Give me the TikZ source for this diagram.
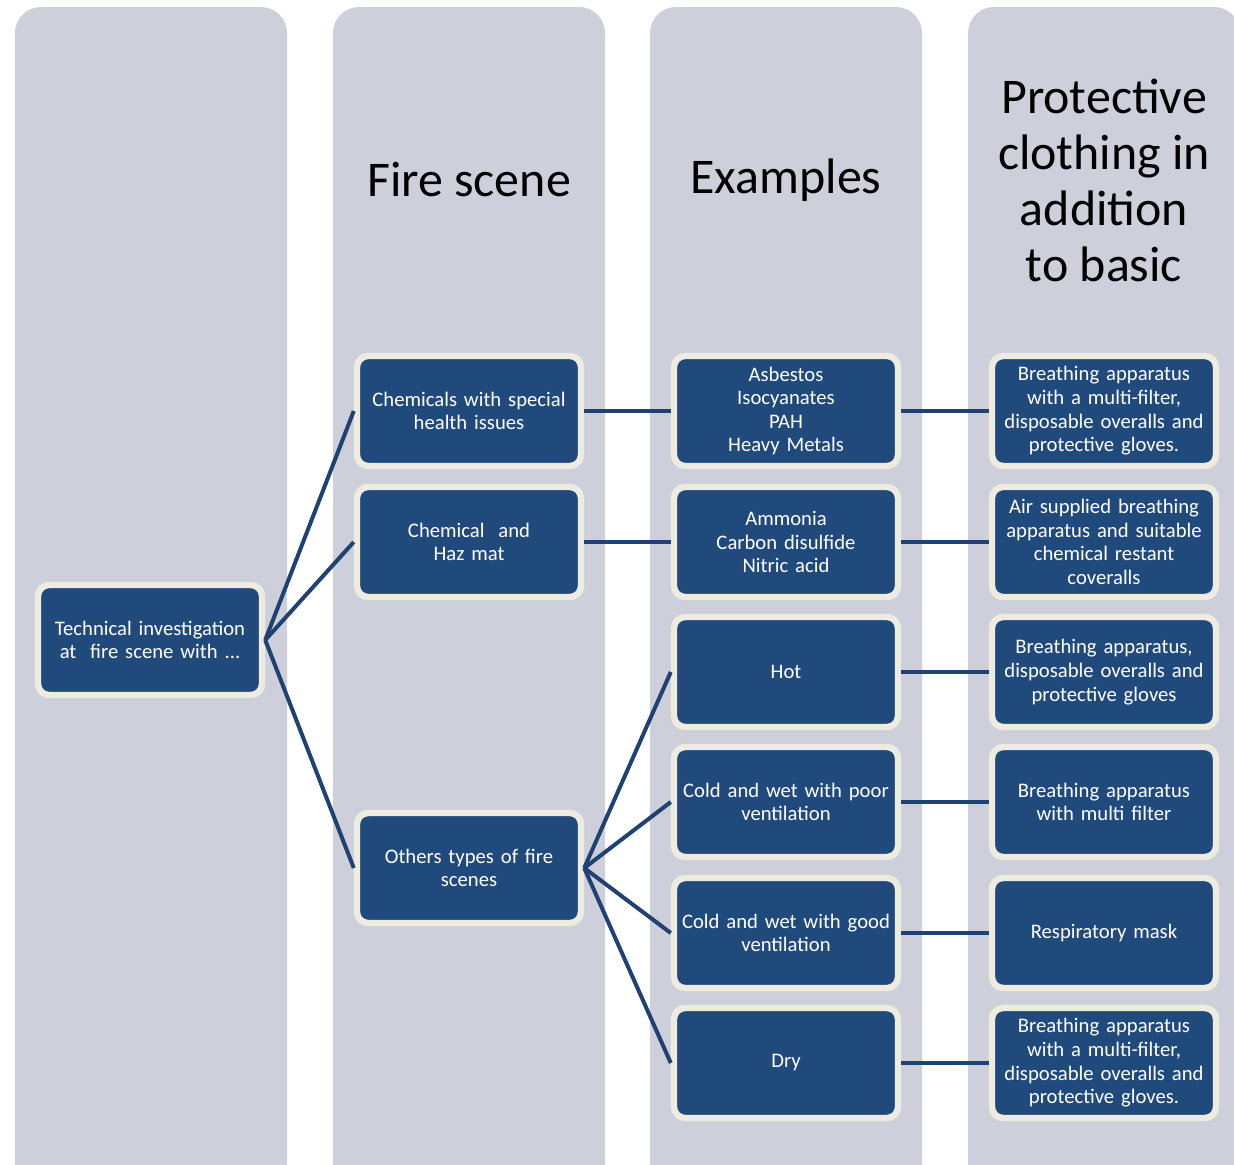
\documentclass[tikz,border=0pt]{standalone}
\usepackage{fontspec}
\setmainfont{Carlito}
\usetikzlibrary{backgrounds}

\definecolor{colbg}{HTML}{CDD0DA}
\definecolor{boxblue}{HTML}{214A7C}
\definecolor{boxrim}{HTML}{EEEBE0}
\definecolor{linkblue}{HTML}{1F4272}

\tikzset{
    column/.style={fill=colbg, rounded corners=0.65cm},
    item/.style={fill=boxblue, draw=boxrim, line width=0.16cm, rounded corners=0.28cm,
        text=white, align=center, minimum width=5.6cm, minimum height=2.75cm,
        text width=5.4cm, font=\fontsize{14.7}{16.8}\selectfont, inner sep=0pt},
    heading/.style={align=center, font=\fontsize{35.5}{39.8}\selectfont},
    link/.style={draw=linkblue, line width=0.1cm}
}

\begin{document}
\begin{tikzpicture}[x=0.025cm, y=-0.025cm]
        \useasboundingbox (0,0) rectangle (1234,1164);
        \begin{scope}
            \clip (0,0) rectangle (1234,1164);
            \fill[column] (15,7) rectangle (287,1190);
            \fill[column] (333,7) rectangle (605,1190);
            \fill[column] (650,7) rectangle (922,1190);
            \fill[column] (968,7) rectangle (1240,1190);
        \end{scope}

        \node[heading] (hscene) at (469,180) {Fire scene};
        \node[heading] (hexamples) at (786,180) {Examples};
        \node[heading] (hprotect) at (1104,180) {Protective\\clothing in\\addition\\to basic};

        \node[item] (root) at (150,640) {Technical investigation\\at\ \ fire scene with ...};

        \node[item] (chem) at (469,411) {Chemicals with special\\health issues};
        \node[item] (hazmat) at (469,542) {Chemical\ \ and\\Haz mat};
        \node[item] (others) at (469,868) {Others types of fire\\scenes};

        \node[item] (asbestos) at (786,411) {Asbestos\\Isocyanates\\PAH\\Heavy Metals};
        \node[item] (ammonia) at (786,542) {Ammonia\\Carbon disulfide\\Nitric acid};
        \node[item] (hot) at (786,672) {Hot};
        \node[item] (poor) at (786,802) {Cold and wet with poor\\ventilation\\[1.25em]};
        \node[item] (good) at (786,933) {Cold and wet with good\\ventilation};
        \node[item] (dry) at (786,1063) {Dry};

        \node[item] (pasbestos) at (1104,411) {Breathing apparatus\\with a multi-filter,\\disposable overalls and\\protective gloves.};
        \node[item] (pammonia) at (1104,542) {Air supplied breathing\\apparatus and suitable\\chemical restant\\coveralls};
        \node[item] (phot) at (1104,672) {Breathing apparatus,\\disposable overalls and\\protective gloves};
        \node[item] (ppoor) at (1104,802) {Breathing apparatus\\with multi filter\\[1.25em]};
        \node[item] (pgood) at (1104,933) {Respiratory mask};
        \node[item] (pdry) at (1104,1063) {Breathing apparatus\\with a multi-filter,\\disposable overalls and\\protective gloves.};

        % tree from the root
        \draw[link] (root.east) -- (chem.west);
        \draw[link] (root.east) -- (hazmat.west);
        \draw[link] (root.east) -- (others.west);
        \foreach \ex in {hot,poor,good,dry}
            \draw[link] (others.east) -- (\ex.west);

        % rows
        \draw[link] (chem) -- (asbestos);
        \draw[link] (hazmat) -- (ammonia);
        \draw[link] (asbestos) -- (pasbestos);
        \draw[link] (ammonia) -- (pammonia);
        \draw[link] (hot) -- (phot);
        \draw[link] (poor) -- (ppoor);
        \draw[link] (good) -- (pgood);
        \draw[link] (dry) -- (pdry);
\end{tikzpicture}
\end{document}
